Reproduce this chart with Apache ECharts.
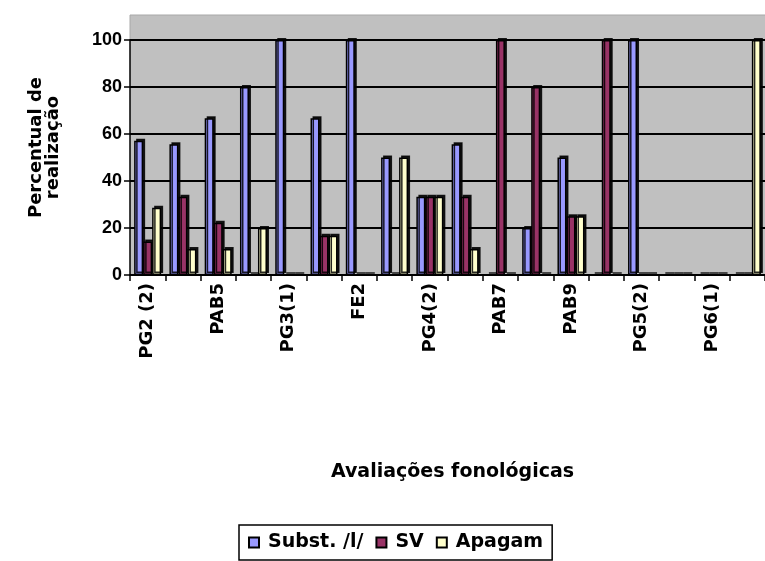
<!DOCTYPE html>
<html>
<head>
<meta charset="utf-8">
<script src="https://cdn.jsdelivr.net/npm/echarts@6/dist/echarts.min.js"></script>
<style>
  html, body { margin: 0; padding: 0; background: #fff; }
  #chart { width: 765px; height: 561px; }
</style>
</head>
<body>
<div id="chart"></div>
<script>
// categorias (só as pares aparecem no eixo)
var categorias = ['PG2 (2)', 'PAB4', 'PAB5', 'PAB6', 'PG3(1)', 'PG3(2)', 'FE2', 'FE3',
  'PG4(2)', 'PG4(3)', 'PAB7', 'PAB8', 'PAB9', 'PAB10', 'PG5(2)', 'PG5(3)', 'PG6(1)', 'PG6(2)']
var subst = [57.1, 55.6, 66.7, 80, 100, 66.7, 100, 50, 33.3, 55.6, 0, 20, 50, 0, 100, 0, 0, 0]
var sv = [14.3, 33.3, 22.2, 0, 0, 16.7, 0, 0, 33.3, 33.3, 100, 80, 25, 100, 0, 0, 0, 0]
var apagam = [28.6, 11.1, 11.1, 20, 0, 16.7, 0, 50, 33.3, 11.1, 0, 0, 25, 0, 0, 0, 0, 100]
var yTicks = [0, 20, 40, 60, 80, 100]

var fonte = '"Liberation Sans", Arial, sans-serif'
var fonteLarga = '"DejaVu Sans", sans-serif'
var chart = echarts.init(document.getElementById('chart'))

function serie(nome, cor, dados) {
  return {
    name: nome,
    type: 'bar',
    barWidth: 9,
    barGap: '0%',
    itemStyle: {
      color: cor,
      borderColor: '#000',
      borderWidth: 1.5,
      shadowColor: 'rgba(0,0,0,0.85)',
      shadowOffsetX: 2,
      shadowOffsetY: -2
    },
    data: dados
  }
}

chart.setOption({
  animation: false,
  textStyle: { fontFamily: fonte },
  grid: {
    left: 130,
    top: 40,
    width: 652,
    height: 235,
    show: true,
    backgroundColor: '#C0C0C0',
    borderWidth: 0
  },
  graphic: [
    { // parede de trás acima do 100
      type: 'rect',
      z: -1,
      shape: { x: 130, y: 15, width: 640, height: 25 },
      style: { fill: '#C0C0C0', stroke: '#A8A8A8', lineWidth: 1 }
    }
  ],
  legend: {
    left: 239,
    top: 525,
    padding: [8, 9, 8, 9],
    borderColor: '#000',
    borderWidth: 1.5,
    itemWidth: 10,
    itemHeight: 10,
    itemGap: 12,
    icon: 'rect',
    itemStyle: { shadowColor: 'transparent' },
    textStyle: { fontFamily: fonteLarga, fontWeight: 'bold', fontSize: 19, color: '#000', padding: [0, 0, 0, 4] },
    data: ['Subst. /l/', 'SV', 'Apagam']
  },
  xAxis: {
    type: 'category',
    data: categorias,
    name: 'Avaliações fonológicas',
    nameLocation: 'middle',
    nameGap: 188,
    nameTextStyle: { fontFamily: fonteLarga, fontWeight: 'bold', fontSize: 19, color: '#000', padding: [0, 0, 0, 10] },
    axisLine: { lineStyle: { color: '#000', width: 1.5 } },
    axisTick: { show: true, interval: 0, length: 6, lineStyle: { color: '#000', width: 1.5 } },
    axisLabel: {
      interval: 1,
      rotate: 90,
      margin: 8,
      fontFamily: fonteLarga,
      fontWeight: 'bold',
      fontSize: 18,
      color: '#000'
    },
    splitLine: { show: false }
  },
  yAxis: {
    type: 'value',
    min: 0,
    max: 100,
    interval: 20,
    name: 'Percentual de\nrealização',
    nameLocation: 'middle',
    nameRotate: 90,
    nameGap: 68,
    nameTextStyle: { fontFamily: fonteLarga, fontWeight: 'bold', fontSize: 18, lineHeight: 17, color: '#000', padding: [0, 0, 0, 20] },
    axisLine: { show: true, lineStyle: { color: '#000', width: 1.5 } },
    axisTick: { show: true, length: 6, lineStyle: { color: '#000', width: 1.5 } },
    axisLabel: {
      margin: 8,
      fontFamily: fonte,
      fontWeight: 'bold',
      fontSize: 18,
      color: '#000',
      formatter: function (v) { return yTicks.indexOf(v) >= 0 ? v : '' }
    },
    splitLine: { lineStyle: { color: '#000', width: 1.8 } }
  },
  series: [
    serie('Subst. /l/', '#9999FF', subst),
    serie('SV', '#993366', sv),
    serie('Apagam', '#FFFFCC', apagam)
  ]
})
</script>
</body>
</html>
